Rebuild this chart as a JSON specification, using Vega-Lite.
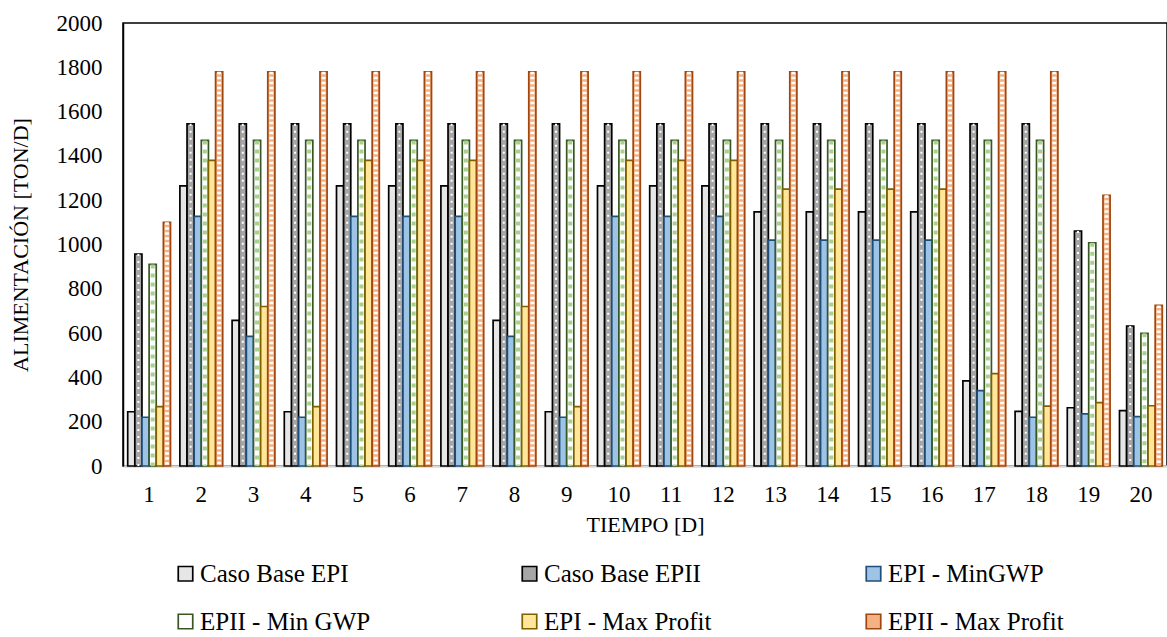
{
  "$schema": "https://vega.github.io/schema/vega-lite/v6.json",
  "width": 1044,
  "height": 443,
  "autosize": {"type": "none"},
  "padding": {"left": 123, "top": 23, "right": 0, "bottom": 171},
  "background": "white",
  "config": {"font": "Liberation Serif", "view": {"stroke": "black", "strokeWidth": 1.5}},
  "data": {"values": [
    {"d":1,"s":"Caso Base EPI","v":245},{"d":1,"s":"Caso Base EPII","v":957},{"d":1,"s":"EPI - MinGWP","v":220},{"d":1,"s":"EPII - Min GWP","v":910},{"d":1,"s":"EPI - Max Profit","v":268},{"d":1,"s":"EPII - Max Profit","v":1100},
    {"d":2,"s":"Caso Base EPI","v":1265},{"d":2,"s":"Caso Base EPII","v":1545},{"d":2,"s":"EPI - MinGWP","v":1127},{"d":2,"s":"EPII - Min GWP","v":1470},{"d":2,"s":"EPI - Max Profit","v":1380},{"d":2,"s":"EPII - Max Profit","v":1780},
    {"d":3,"s":"Caso Base EPI","v":657},{"d":3,"s":"Caso Base EPII","v":1545},{"d":3,"s":"EPI - MinGWP","v":585},{"d":3,"s":"EPII - Min GWP","v":1470},{"d":3,"s":"EPI - Max Profit","v":720},{"d":3,"s":"EPII - Max Profit","v":1780},
    {"d":4,"s":"Caso Base EPI","v":245},{"d":4,"s":"Caso Base EPII","v":1545},{"d":4,"s":"EPI - MinGWP","v":220},{"d":4,"s":"EPII - Min GWP","v":1470},{"d":4,"s":"EPI - Max Profit","v":268},{"d":4,"s":"EPII - Max Profit","v":1780},
    {"d":5,"s":"Caso Base EPI","v":1265},{"d":5,"s":"Caso Base EPII","v":1545},{"d":5,"s":"EPI - MinGWP","v":1127},{"d":5,"s":"EPII - Min GWP","v":1470},{"d":5,"s":"EPI - Max Profit","v":1380},{"d":5,"s":"EPII - Max Profit","v":1780},
    {"d":6,"s":"Caso Base EPI","v":1265},{"d":6,"s":"Caso Base EPII","v":1545},{"d":6,"s":"EPI - MinGWP","v":1127},{"d":6,"s":"EPII - Min GWP","v":1470},{"d":6,"s":"EPI - Max Profit","v":1380},{"d":6,"s":"EPII - Max Profit","v":1780},
    {"d":7,"s":"Caso Base EPI","v":1265},{"d":7,"s":"Caso Base EPII","v":1545},{"d":7,"s":"EPI - MinGWP","v":1127},{"d":7,"s":"EPII - Min GWP","v":1470},{"d":7,"s":"EPI - Max Profit","v":1380},{"d":7,"s":"EPII - Max Profit","v":1780},
    {"d":8,"s":"Caso Base EPI","v":657},{"d":8,"s":"Caso Base EPII","v":1545},{"d":8,"s":"EPI - MinGWP","v":585},{"d":8,"s":"EPII - Min GWP","v":1470},{"d":8,"s":"EPI - Max Profit","v":720},{"d":8,"s":"EPII - Max Profit","v":1780},
    {"d":9,"s":"Caso Base EPI","v":245},{"d":9,"s":"Caso Base EPII","v":1545},{"d":9,"s":"EPI - MinGWP","v":220},{"d":9,"s":"EPII - Min GWP","v":1470},{"d":9,"s":"EPI - Max Profit","v":268},{"d":9,"s":"EPII - Max Profit","v":1780},
    {"d":10,"s":"Caso Base EPI","v":1265},{"d":10,"s":"Caso Base EPII","v":1545},{"d":10,"s":"EPI - MinGWP","v":1127},{"d":10,"s":"EPII - Min GWP","v":1470},{"d":10,"s":"EPI - Max Profit","v":1380},{"d":10,"s":"EPII - Max Profit","v":1780},
    {"d":11,"s":"Caso Base EPI","v":1265},{"d":11,"s":"Caso Base EPII","v":1545},{"d":11,"s":"EPI - MinGWP","v":1127},{"d":11,"s":"EPII - Min GWP","v":1470},{"d":11,"s":"EPI - Max Profit","v":1380},{"d":11,"s":"EPII - Max Profit","v":1780},
    {"d":12,"s":"Caso Base EPI","v":1265},{"d":12,"s":"Caso Base EPII","v":1545},{"d":12,"s":"EPI - MinGWP","v":1127},{"d":12,"s":"EPII - Min GWP","v":1470},{"d":12,"s":"EPI - Max Profit","v":1380},{"d":12,"s":"EPII - Max Profit","v":1780},
    {"d":13,"s":"Caso Base EPI","v":1147},{"d":13,"s":"Caso Base EPII","v":1545},{"d":13,"s":"EPI - MinGWP","v":1020},{"d":13,"s":"EPII - Min GWP","v":1470},{"d":13,"s":"EPI - Max Profit","v":1250},{"d":13,"s":"EPII - Max Profit","v":1780},
    {"d":14,"s":"Caso Base EPI","v":1147},{"d":14,"s":"Caso Base EPII","v":1545},{"d":14,"s":"EPI - MinGWP","v":1020},{"d":14,"s":"EPII - Min GWP","v":1470},{"d":14,"s":"EPI - Max Profit","v":1250},{"d":14,"s":"EPII - Max Profit","v":1780},
    {"d":15,"s":"Caso Base EPI","v":1147},{"d":15,"s":"Caso Base EPII","v":1545},{"d":15,"s":"EPI - MinGWP","v":1020},{"d":15,"s":"EPII - Min GWP","v":1470},{"d":15,"s":"EPI - Max Profit","v":1250},{"d":15,"s":"EPII - Max Profit","v":1780},
    {"d":16,"s":"Caso Base EPI","v":1147},{"d":16,"s":"Caso Base EPII","v":1545},{"d":16,"s":"EPI - MinGWP","v":1020},{"d":16,"s":"EPII - Min GWP","v":1470},{"d":16,"s":"EPI - Max Profit","v":1250},{"d":16,"s":"EPII - Max Profit","v":1780},
    {"d":17,"s":"Caso Base EPI","v":384},{"d":17,"s":"Caso Base EPII","v":1545},{"d":17,"s":"EPI - MinGWP","v":340},{"d":17,"s":"EPII - Min GWP","v":1470},{"d":17,"s":"EPI - Max Profit","v":417},{"d":17,"s":"EPII - Max Profit","v":1780},
    {"d":18,"s":"Caso Base EPI","v":247},{"d":18,"s":"Caso Base EPII","v":1545},{"d":18,"s":"EPI - MinGWP","v":220},{"d":18,"s":"EPII - Min GWP","v":1470},{"d":18,"s":"EPI - Max Profit","v":270},{"d":18,"s":"EPII - Max Profit","v":1780},
    {"d":19,"s":"Caso Base EPI","v":263},{"d":19,"s":"Caso Base EPII","v":1061},{"d":19,"s":"EPI - MinGWP","v":235},{"d":19,"s":"EPII - Min GWP","v":1008},{"d":19,"s":"EPI - Max Profit","v":286},{"d":19,"s":"EPII - Max Profit","v":1222},
    {"d":20,"s":"Caso Base EPI","v":250},{"d":20,"s":"Caso Base EPII","v":632},{"d":20,"s":"EPI - MinGWP","v":223},{"d":20,"s":"EPII - Min GWP","v":599},{"d":20,"s":"EPI - Max Profit","v":272},{"d":20,"s":"EPII - Max Profit","v":725}
  ]},
  "encoding": {
    "x": {
      "field": "d", "type": "ordinal", "title": "TIEMPO [D]",
      "scale": {"paddingInner": 0.18, "paddingOuter": 0.09},
      "axis": {"labelAngle": 0, "labelFontSize": 23, "labelColor": "black", "labelPadding": 17, "ticks": false, "domainColor": "#D9D9D9", "domainWidth": 2.5, "titleFontSize": 22, "titleFontWeight": "normal", "titleColor": "black", "titlePadding": 8}
    },
    "xOffset": {
      "field": "s", "type": "nominal",
      "scale": {"domain": ["Caso Base EPI", "Caso Base EPII", "EPI - MinGWP", "EPII - Min GWP", "EPI - Max Profit", "EPII - Max Profit"], "paddingInner": 0, "paddingOuter": 0}
    },
    "y": {
      "field": "v", "type": "quantitative", "title": "ALIMENTACIÓN [TON/D]",
      "scale": {"domain": [0, 2000]},
      "axis": {"values": [0,200,400,600,800,1000,1200,1400,1600,1800,2000], "format": "d", "grid": false, "ticks": false, "domainColor": "black", "domainWidth": 1.5, "labelFontSize": 23, "labelColor": "black", "labelPadding": 21, "titleFontSize": 22, "titleFontWeight": "normal", "titleColor": "black", "titlePadding": 24}
    }
  },
  "layer": [
    {
      "mark": {"type": "bar", "strokeWidth": 1.7},
      "encoding": {
        "fill": {
          "field": "s", "type": "nominal", "title": null,
          "scale": {"domain": ["Caso Base EPI", "Caso Base EPII", "EPI - MinGWP", "EPII - Min GWP", "EPI - Max Profit", "EPII - Max Profit"], "range": ["#E7E6E6", "#A6A6A6", "#9DC3E6", "#FFFFFF", "#FFE699", "#F4B183"]},
          "legend": {"orient": "none", "legendX": 50, "legendY": 538, "direction": "horizontal", "columns": 3, "gridAlign": "all", "columnPadding": 141, "rowPadding": 22, "labelFontSize": 25, "labelColor": "black", "labelOffset": 2, "symbolType": "square", "symbolSize": 210, "symbolStrokeWidth": 1.7, "labelLimit": 400}
        },
        "stroke": {
          "field": "s", "type": "nominal", "title": null,
          "scale": {"domain": ["Caso Base EPI", "Caso Base EPII", "EPI - MinGWP", "EPII - Min GWP", "EPI - Max Profit", "EPII - Max Profit"], "range": ["#000000", "#000000", "#1F4E79", "#385723", "#7F6000", "#A0460E"]}
        }
      }
    },
    {
      "transform": [{"filter": "datum.s === 'EPII - Min GWP'"}],
      "mark": {"type": "rule", "color": "#A9D18E", "strokeWidth": 4, "strokeDash": [4, 5]},
      "encoding": {"y2": {"datum": 0}}
    },
    {
      "transform": [{"filter": "datum.s === 'Caso Base EPII'"}],
      "mark": {"type": "rule", "color": "white", "strokeWidth": 2, "strokeDash": [2, 5]},
      "encoding": {"y2": {"datum": 0}}
    },
    {
      "transform": [{"filter": "datum.s === 'EPII - Max Profit'"}],
      "mark": {"type": "rule", "color": "white", "strokeWidth": 4, "strokeDash": [2.5, 2.5]},
      "encoding": {"y2": {"datum": 0}}
    }
  ]
}
